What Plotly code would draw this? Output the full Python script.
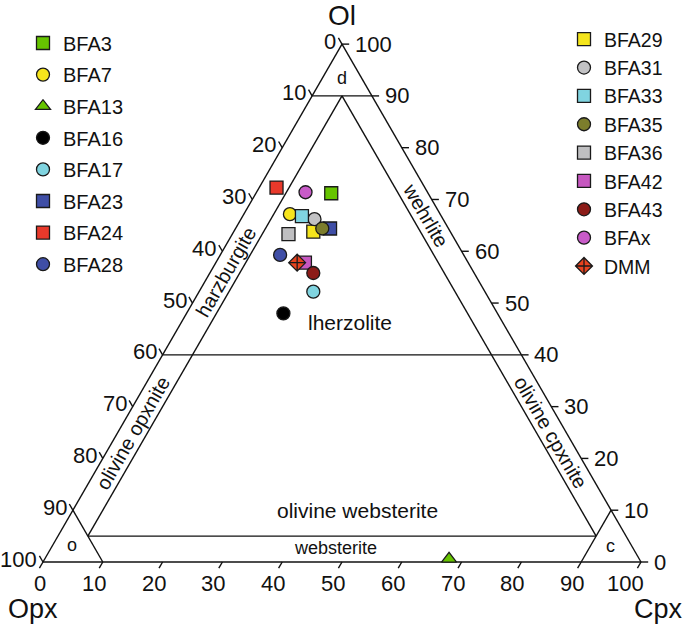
import numpy as np
import plotly.graph_objects as go

# modal composition (Ol, Opx, Cpx)
samples = ["BFA3", "BFA7", "BFA13", "BFA16", "BFA17", "BFA23", "BFA24", "BFA28",
           "BFA29", "BFA31", "BFA33", "BFA35", "BFA36", "BFA42", "BFA43", "BFAx", "DMM"]
ol = [71.2, 67.1, 0.6, 48.0, 52.2, 64.4, 72.3, 59.3,
      63.8, 66.2, 66.8, 64.4, 63.3, 57.8, 55.8, 71.4, 57.8]
opx = [16.2, 25.1, 31.8, 35.8, 28.7, 19.8, 24.8, 30.7,
       22.9, 21.5, 23.3, 21.1, 27.3, 27.3, 26.9, 20.4, 28.6]
cpx = [12.6, 7.7, 67.6, 16.2, 19.1, 15.8, 2.9, 10.0,
       13.3, 12.3, 9.9, 14.5, 9.4, 14.9, 17.3, 8.2, 13.6]

symbols = ["square", "circle", "triangle-up", "circle", "circle", "square", "square", "circle",
           "square", "circle", "square", "circle", "square", "square", "circle", "circle", "diamond-cross"]
colors = ["#66c400", "#f7e51c", "#66c400", "#000000", "#80d4e0", "#3f4ea6", "#e8392b", "#3f4ea6",
          "#f5e51c", "#c2c2c4", "#80d4e0", "#7c7d2c", "#bfbfc1", "#c657c0", "#8c1c18", "#c85bc8", "#e8431f"]

ticks = list(range(0, 101, 10))

FONT = "Liberation Sans, Arial, sans-serif"
S3 = np.sqrt(3) / 2


def xy(a, b, c):
    # a = Ol (top), b = Opx (left), c = Cpx (right)
    t = a + b + c
    a, c = 100.0 * a / t, 100.0 * c / t
    return c + a / 2.0, a * S3


# field boundaries
segments = [
    ((100, 0, 0), (0, 100, 0)), ((0, 100, 0), (0, 0, 100)), ((0, 0, 100), (100, 0, 0)),
    ((90, 10, 0), (90, 0, 10)),
    ((40, 60, 0), (40, 0, 60)),
    ((90, 5, 5), (5, 90, 5)),
    ((90, 5, 5), (5, 5, 90)),
    ((5, 90, 5), (5, 5, 90)),
    ((0, 90, 10), (10, 90, 0)),
    ((0, 10, 90), (10, 0, 90)),
]

fig = go.Figure()

lx, ly = [], []
for p, q in segments:
    x0, y0 = xy(*p)
    x1, y1 = xy(*q)
    lx += [x0, x1, None]
    ly += [y0, y1, None]

# tick marks
tl = 1.2
for v in ticks:
    # left edge (Opx), tick along constant-Opx direction
    x0, y0 = xy(100 - v, v, 0)
    lx += [x0, x0 - 0.5 * tl, None]
    ly += [y0, y0 + S3 * tl, None]
    # right edge (Ol), horizontal tick
    x0, y0 = xy(v, 0, 100 - v)
    lx += [x0, x0 + tl, None]
    ly += [y0, y0, None]
    # bottom edge (Cpx)
    x0, y0 = xy(0, 100 - v, v)
    lx += [x0, x0 - 0.5 * tl, None]
    ly += [y0, y0 - S3 * tl, None]

fig.add_trace(go.Scatter(x=lx, y=ly, mode="lines", line=dict(color="#111111", width=1.4),
                         showlegend=False, hoverinfo="skip"))

for i, name in enumerate(samples):
    x, y = xy(ol[i], opx[i], cpx[i])
    fig.add_trace(go.Scatter(
        x=[x], y=[y], mode="markers", name=name, legendgroup=name,
        legend="legend" if i < 8 else "legend2",
        marker=dict(symbol=symbols[i], size=13, color=colors[i],
                    line=dict(color="#1a1a1a", width=1.3)),
    ))

ann = []
for v in ticks:
    x0, y0 = xy(100 - v, v, 0)
    ann.append(dict(x=x0, y=y0, text=str(v), xanchor="right", yanchor="middle",
                    xshift=-4, yshift=3, font=dict(size=22)))
    x0, y0 = xy(v, 0, 100 - v)
    ann.append(dict(x=x0, y=y0, text=str(v), xanchor="left", yanchor="middle",
                    xshift=11, yshift=0, font=dict(size=22)))
    x0, y0 = xy(0, 100 - v, v)
    ann.append(dict(x=x0, y=y0, text=str(v), xanchor="right", yanchor="middle",
                    xshift=5, yshift=-21, font=dict(size=22)))

# apex labels
x0, y0 = xy(100, 0, 0)
ann.append(dict(x=x0, y=y0, text="Ol", yshift=29, font=dict(size=28)))
x0, y0 = xy(0, 100, 0)
ann.append(dict(x=x0, y=y0, text="Opx", xshift=-10, yshift=-47, font=dict(size=27)))
x0, y0 = xy(0, 0, 100)
ann.append(dict(x=x0, y=y0, text="Cpx", xshift=17, yshift=-47, font=dict(size=27)))

# field names
fields = [
    ("d", (93.5, 3.25, 3.25), 0, 18),
    ("o", (3.3, 93.5, 3.2), 0, 18),
    ("c", (3.1, 3.5, 93.4), 0, 18),
    ("lherzolite", (46.2, 25.6, 28.2), 0, 21),
    ("olivine websterite", (9.9, 42.5, 47.6), 0, 21),
    ("websterite", (2.7, 49.8, 47.5), 0, 18),
    ("harzburgite", (56.0, 41.4, 2.6), -60, 20),
    ("olivine opxnite", (25.0, 72.5, 2.5), -60, 20),
    ("wehrlite", (67.0, 2.5, 30.5), 60, 20),
    ("olivine cpxnite", (25.0, 2.5, 72.5), 60, 20),
]
for text, p, ang, fs in fields:
    x0, y0 = xy(*p)
    ann.append(dict(x=x0, y=y0, text=text, textangle=ang, font=dict(size=fs)))

for a in ann:
    a.update(xref="x", yref="y", showarrow=False)
    a["font"].update(family=FONT, color="#111111")

# plot origin (Opx corner) at (43, 562) px, 5.98 px per percent
x_px0, y_px0, px_per = 43.0, 562.0, 5.98
W, H = 685, 634

fig.update_layout(
    width=W, height=H,
    margin=dict(l=0, r=0, t=0, b=0),
    paper_bgcolor="white", plot_bgcolor="white",
    font=dict(family=FONT, color="#111111"),
    xaxis=dict(visible=False, range=[-x_px0 / px_per, (W - x_px0) / px_per], fixedrange=True),
    yaxis=dict(visible=False, range=[-(H - y_px0) / px_per, y_px0 / px_per], fixedrange=True),
    annotations=ann,
    legend=dict(x=23 / W, y=1 - 23.5 / H, xanchor="left", yanchor="top",
                font=dict(size=20, family=FONT), tracegroupgap=2.6, bgcolor="rgba(0,0,0,0)"),
    legend2=dict(x=564 / W, y=1 - 20 / H, xanchor="left", yanchor="top",
                 font=dict(size=19.5, family=FONT), tracegroupgap=0, bgcolor="rgba(0,0,0,0)"),
)

# drop the default body margin so the figure fills the window
fig.write_html("out.html", config={"displayModeBar": False},
               post_script="document.body.style.margin = '0px';")
